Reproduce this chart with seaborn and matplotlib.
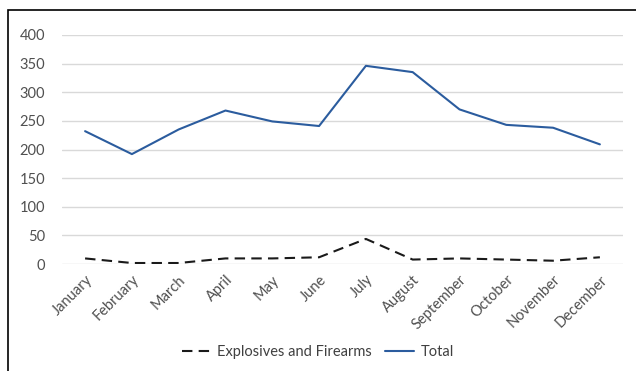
import pandas as pd
import seaborn as sns
import matplotlib.pyplot as plt
from matplotlib.patches import Rectangle

# Chart data
months = ["January", "February", "March", "April", "May", "June", "July",
          "August", "September", "October", "November", "December"]
explosives = [10, 2, 2, 10, 10, 12, 44, 8, 10, 8, 6, 12]
total = [232, 192, 235, 268, 249, 241, 346, 335, 270, 243, 238, 209]

df = pd.DataFrame({
    "month": months * 2,
    "value": explosives + total,
    "series": ["Explosives and Firearms"] * 12 + ["Total"] * 12,
})
df["x"] = list(range(12)) * 2

sns.set_style("white")
plt.rcParams['font.family'] = ['Lato', 'DejaVu Sans']

fig = plt.figure(figsize=(6.36, 3.71), dpi=100)
ax = fig.add_axes([0.097, 0.288, 0.883, 0.618])

palette = {"Explosives and Firearms": "#1a1a1a", "Total": "#2B5C9E"}
sns.lineplot(data=df, x="x", y="value", hue="series", style="series",
             palette=palette,
             dashes={"Explosives and Firearms": (5, 3), "Total": ""},
             linewidth=1.5, ax=ax)

ax.set_xlim(-0.5, 11.5)
ax.set_ylim(0, 400)
ax.set_yticks(range(0, 401, 50))
ax.set_xticks(range(12))
ax.set_xticklabels(months, rotation=45, ha="right", rotation_mode="anchor")
ax.tick_params(axis="both", colors="#505050", labelsize=10.5, length=0)
ax.tick_params(axis="y", pad=12)
ax.tick_params(axis="x", pad=6)
ax.yaxis.grid(True, color="#d9d9d9", linewidth=1)
ax.set_axisbelow(True)
for s in ax.spines.values():
    s.set_visible(False)
ax.set_xlabel("")
ax.set_ylabel("")

handles, labels = ax.get_legend_handles_labels()
ax.legend(handles, labels, loc="center", bbox_to_anchor=(0.5, 0.052),
          bbox_transform=fig.transFigure, ncol=2, frameon=False,
          fontsize=10.5, labelcolor="#404040", handlelength=2.0,
          columnspacing=0.9, handletextpad=0.4)

# outer frame (right and bottom edges cropped in the reference)
fig.add_artist(Rectangle((8 / 636, -0.1), 1.2, 1.1 - 10 / 371,
                         transform=fig.transFigure, fill=False,
                         edgecolor="black", linewidth=1.2))

fig.savefig("out.png", dpi=100)
